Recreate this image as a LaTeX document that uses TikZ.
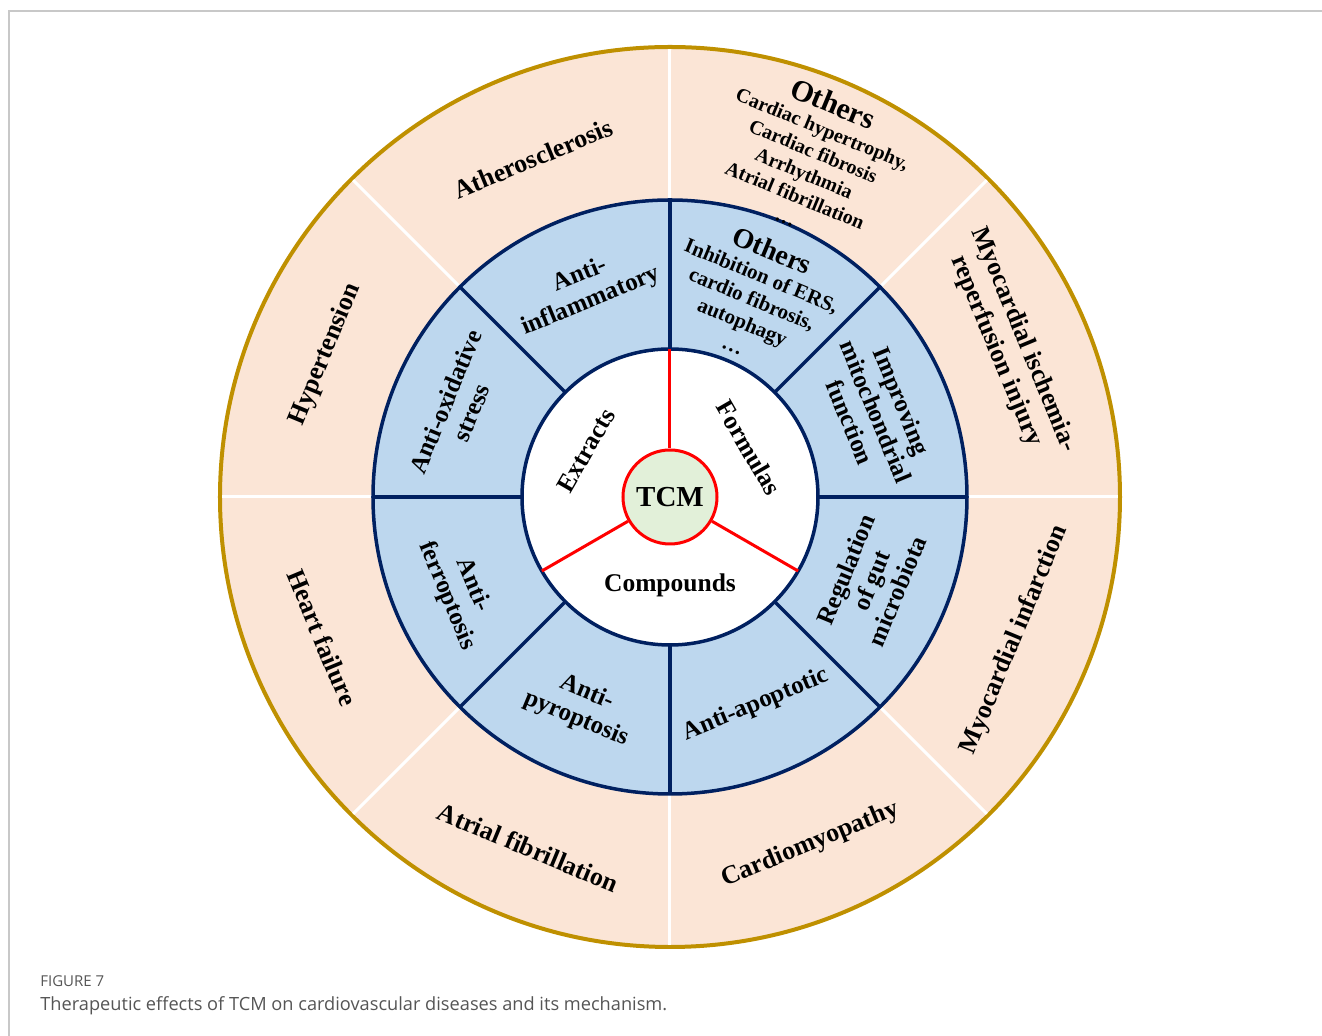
\documentclass[tikz,border=0pt]{standalone}
\usepackage{fontspec}
\setmainfont{Liberation Serif}
\newfontfamily\captionfont{Open Sans}
\usepackage{xcolor}
\usepackage{tikz}
\usetikzlibrary{positioning}

\definecolor{ringgold}{HTML}{BF9000}
\definecolor{peach}{HTML}{FBE5D6}
\definecolor{paleblue}{HTML}{BDD7EE}
\definecolor{navy}{HTML}{002060}
\definecolor{palegreen}{HTML}{E2F0D9}
\definecolor{framegray}{HTML}{C8C8C8}
\definecolor{captiongray}{HTML}{555555}

\tikzset{
  disease/.style={align=center,inner sep=0pt,font=\bfseries\fontsize{13}{15}\selectfont},
  effect/.style={align=center,inner sep=0pt,font=\bfseries\fontsize{12.5}{14}\selectfont},
  source/.style={inner sep=0pt,font=\bfseries\fontsize{12.75}{14}\selectfont},
}

\begin{document}
\begin{tikzpicture}[x=0.5pt,y=0.5pt]

\useasboundingbox (-670,-539) rectangle (652,497);

% page frame
\draw[framegray, line width=0.75pt] (-661,-539) -- (-661,486) -- (652,486);

% outer ring: diseases
\draw[ringgold, line width=2pt, fill=peach] (0,0) circle (450);

% white dividers of the outer ring
\draw[white, line width=1.5pt] (0:297) -- (0:448);
\draw[white, line width=1.5pt] (45:297) -- (45:448);
\draw[white, line width=1.5pt] (90:297) -- (90:448);
\draw[white, line width=1.5pt] (135:297) -- (135:448);
\draw[white, line width=1.5pt] (180:297) -- (180:448);
\draw[white, line width=1.5pt] (225:297) -- (225:448);
\draw[white, line width=1.5pt] (270:297) -- (270:448);
\draw[white, line width=1.5pt] (315:297) -- (315:448);

% middle ring: mechanisms
\draw[navy, line width=1.75pt, fill=paleblue] (0,0) circle (297);

\draw[navy, line width=1.75pt] (0:148) -- (0:297);
\draw[navy, line width=1.75pt] (45:148) -- (45:297);
\draw[navy, line width=1.75pt] (90:148) -- (90:297);
\draw[navy, line width=1.75pt] (135:148) -- (135:297);
\draw[navy, line width=1.75pt] (180:148) -- (180:297);
\draw[navy, line width=1.75pt] (225:148) -- (225:297);
\draw[navy, line width=1.75pt] (270:148) -- (270:297);
\draw[navy, line width=1.75pt] (315:148) -- (315:297);

% inner disc: sources
\draw[navy, line width=1.75pt, fill=white] (0,0) circle (148);

\node[circle, draw=red, fill=palegreen, line width=1.5pt, minimum size=47pt,
      inner sep=0pt, font=\bfseries\fontsize{14.5}{16}\selectfont] (tcm) at (0,0) {TCM};

% red spokes
\coordinate (s1) at (90:148);
\coordinate (s2) at (210:148);
\coordinate (s3) at (330:148);
\draw[red, line width=1.5pt] (tcm.90) -- (s1);
\draw[red, line width=1.5pt] (tcm.210) -- (s2);
\draw[red, line width=1.5pt] (tcm.330) -- (s3);

\node[source, rotate=60] (extracts) at (151:96) {Extracts};
\node[source, rotate=-60] (formulas) at (32:93) {Formulas};
\node[source] (compounds) at (270:88) {Compounds};

% mechanism labels
\node[effect, rotate=22.5] (antiinfl) at (112:225) {Anti-\\inflammatory};
\node[effect, rotate=-22.5, font=\bfseries\fontsize{10.5}{12.5}\selectfont] (othersin) at (67.5:217)
  {{\fontsize{14}{15}\selectfont Others}\\ Inhibition of ERS,\\ cardio fibrosis,\\ autophagy\\ …};
\node[effect, rotate=-67.5] (mito) at (22.5:223) {Improving\\mitochondrial\\function};
\node[effect, rotate=67.5] (gut) at (-22.5:218) {Regulation\\of gut\\microbiota};
\node[effect, rotate=22.5] (apopt) at (-67.5:225) {Anti-apoptotic};
\node[effect, rotate=-22.5] (pyro) at (-113:227) {Anti-\\pyroptosis};
\node[effect, rotate=-67.5] (ferro) at (-156:230) {Anti-\\ferroptosis};
\node[effect, rotate=67.5] (oxid) at (157:230) {Anti-oxidative\\stress};

% disease labels
\node[disease, rotate=22.5] (athero) at (112:365) {Atherosclerosis};
\node[disease, rotate=-22.5, font=\bfseries\fontsize{10}{12}\selectfont] (othersout) at (67.5:366)
  {{\fontsize{15}{16}\selectfont Others}\\ Cardiac hypertrophy,\\ Cardiac fibrosis\\ Arrhythmia\\ Atrial fibrillation\\ …};
\node[disease, rotate=-67.5] (mire) at (24:372) {Myocardial ischemia-\\reperfusion injury};
\node[disease, rotate=67.5] (mi) at (-22.5:373) {Myocardial infarction};
\node[disease, rotate=22.5] (cardiomyo) at (-68:375) {Cardiomyopathy};
\node[disease, rotate=-22.5] (af) at (-112:378) {Atrial fibrillation};
\node[disease, rotate=-67.5] (hf) at (-158:375) {Heart failure};
\node[disease, rotate=67.5] (htn) at (157.5:373) {Hypertension};

% caption
\node[anchor=base west, inner sep=0pt, text=captiongray,
      font=\captionfont\fontsize{7.5}{9}\selectfont] (fig) at (-630,-490) {FIGURE 7};
\node[anchor=base west, inner sep=0pt, text=captiongray,
      font=\captionfont\fontsize{9.1}{11}\selectfont] (cap) at (-630,-514)
  {Therapeutic effects of TCM on cardiovascular diseases and its mechanism.};

\end{tikzpicture}
\end{document}
